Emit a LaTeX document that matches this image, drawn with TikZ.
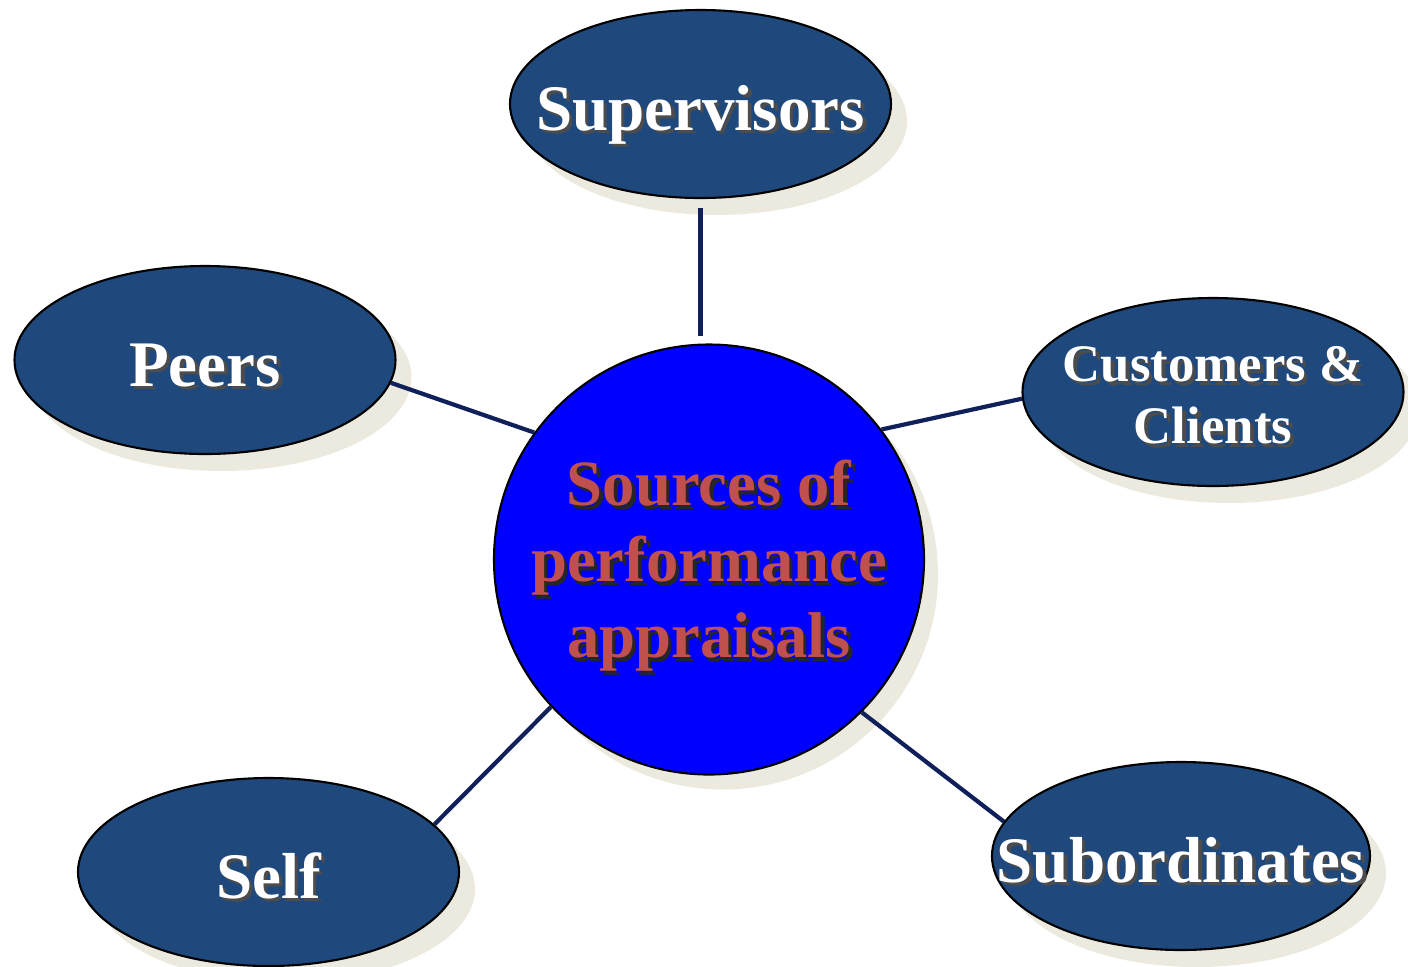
\documentclass[tikz,border=0pt]{standalone}
\usepackage{fontspec}
\setmainfont{Liberation Serif}
\usetikzlibrary{shapes.geometric}
\usetikzlibrary{shadows}
\definecolor{cnavy}{RGB}{31,73,125}
\definecolor{cline}{RGB}{16,32,90}
\definecolor{cshadow}{RGB}{236,233,222}
\definecolor{ctitle}{RGB}{192,80,77}
\definecolor{cblue}{RGB}{0,0,255}
% text with a dark copy behind it, taking no width
\newcommand{\shadowed}[2]{\makebox[0pt]{\makebox[0pt][l]{\hspace{1pt}\raisebox{-1pt}{\textcolor{#1}{#2}}}#2}}

\begin{document}
\begin{tikzpicture}[
    source/.style={ellipse, draw=black, line width=0.6pt, fill=cnavy, minimum width=3.81cm, minimum height=1.88cm, inner sep=0pt, text=white, align=center, font=\fontsize{18.5}{21.6}\selectfont\bfseries, drop shadow={shadow xshift=0.16cm, shadow yshift=-0.17cm, fill=cshadow, opacity=1}},
    oneline/.style={text height=0.52cm, text depth=0cm},
    hub/.style={circle, draw=black, line width=0.6pt, fill=cblue, minimum size=4.3cm, inner sep=0pt, text=ctitle, align=center, font=\fontsize{18.4}{21.6}\selectfont\bfseries, drop shadow={shadow xshift=0.14cm, shadow yshift=-0.15cm, fill=cshadow, opacity=1}},
    link/.style={draw=cline, line width=1.2pt}
  ]
  \useasboundingbox (0, 0) rectangle (14.08, -9.66);

  % centre
  \node [hub] (src) at (7.09, -5.595) {\rule{0pt}{17.5pt}\shadowed{black!85}{Sources of}\\ \shadowed{black!85}{performance}\\ \shadowed{black!85}{appraisals}};
  % sources
  \node [source, oneline] (sup) at (7.005, -1.04) {\shadowed{black!70}{Supervisors}};
  \node [source, oneline] (peer) at (2.05, -3.60) {\shadowed{black!70}{Peers}};
  \node [source, font=\fontsize{15}{17.6}\selectfont\bfseries] (cust) at (12.13, -3.92) {\rule{0pt}{13pt}\shadowed{black!70}{Customers \&}\\ \shadowed{black!70}{Clients}};
  \node [source, oneline] (self) at (2.685, -8.72) {\shadowed{black!70}{Self}};
  \node [source, oneline, minimum width=3.78cm] (sub) at (11.81, -8.56) {\shadowed{black!70}{Subordinates}};

  % connectors
  \draw [link, shorten <=0.09cm, shorten >=0.07cm] (sup.south) -- (sup.south |- src.north);
  \draw [link] (peer.353) -- (src.144);
  \draw [link] (cust.182) -- (src.37);
  \draw [link] (self.16) -- (src.223);
  \draw [link] (sub.169) -- (src.315);
\end{tikzpicture}
\end{document}
